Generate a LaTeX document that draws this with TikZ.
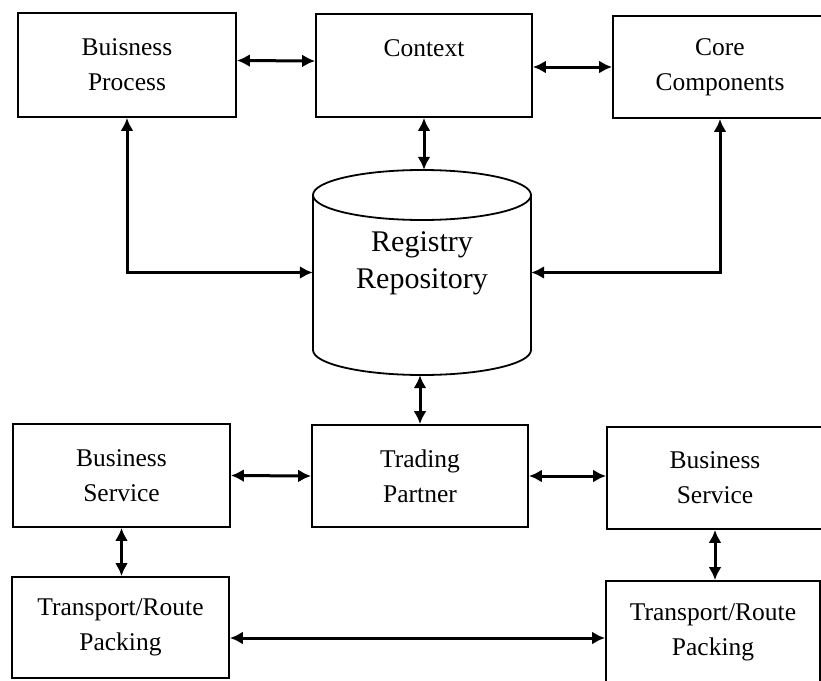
\documentclass[tikz,border=0pt]{standalone}
\usepackage{fontspec}
\setmainfont{Liberation Serif}
\usetikzlibrary{arrows.meta}
\begin{document}
\begin{tikzpicture}[x=1pt,y=-1pt,
  box/.style={draw, line width=1.8pt, inner sep=0pt, align=center,
    font=\fontsize{25.5}{35}\selectfont},
  arr/.style={line width=3pt,
    {Latex[length=13pt,width=13pt]}-{Latex[length=13pt,width=13pt]}}]
\useasboundingbox (0,0) rectangle (821,680);
\clip (0,0) rectangle (821,680);

% top row
\node[box, minimum width=218pt, minimum height=104pt] (bp) at (127,65) {Buisness\\Process};
\node[box, minimum width=216pt, minimum height=103pt] (ctx) at (424,65.5) {Context\\\mbox{}};
\node[box, minimum width=214pt, minimum height=102pt] (cc) at (720,67) {Core\\Components};

% registry / repository cylinder
\node[minimum width=218pt, minimum height=205pt, inner sep=0pt] (repo) at (422,272.5) {};
\draw[line width=1.8pt] (313,195) -- (313,350)
  arc[start angle=180, end angle=0, x radius=109, y radius=25] -- (531,195);
\draw[line width=1.8pt] (422,195) ellipse [x radius=109, y radius=25];
\node[align=center, font=\fontsize{30}{37}\selectfont] (repotxt) at (422,263) {Registry\\Repository};

% middle row
\node[box, minimum width=216pt, minimum height=102pt] (tp) at (420,476) {Trading\\Partner};
\node[box, minimum width=217pt, minimum height=103pt] (bs1) at (121.5,475.5) {Business\\Service};
\node[box, minimum width=216pt, minimum height=102pt] (bs2) at (715,478) {Business\\Service};

% bottom row
\node[box, minimum width=217pt, minimum height=101pt] (tr1) at (120.5,627.5) {Transport/Route\\Packing};
\node[box, minimum width=214pt, minimum height=102pt] (tr2) at (713,632) {Transport/Route\\Packing};

% connectors
\draw[arr] ([yshift=4.5pt]bp.east) -- ([yshift=4.5pt]ctx.west);
\draw[arr] (ctx.east |- cc.west) -- (cc.west);
\draw[arr] (ctx.south) -- (ctx.south |- repo.north);
\draw[arr] (bp.south) |- (repo.west);
\draw[arr] (cc.south) |- (repo.east);
\draw[arr] (repo.south -| tp.north) -- (tp.north);
\draw[arr] (bs1.east) -- (tp.west);
\draw[arr] (tp.east) -- (bs2.west |- tp.east);
\draw[arr] (bs1.south) -- (bs1.south |- tr1.north);
\draw[arr] (bs2.south) -- (bs2.south |- tr2.north);
\coordinate (lk) at (0,638);
\draw[arr] (tr1.east |- lk) -- (tr2.west |- lk);
\end{tikzpicture}
\end{document}
